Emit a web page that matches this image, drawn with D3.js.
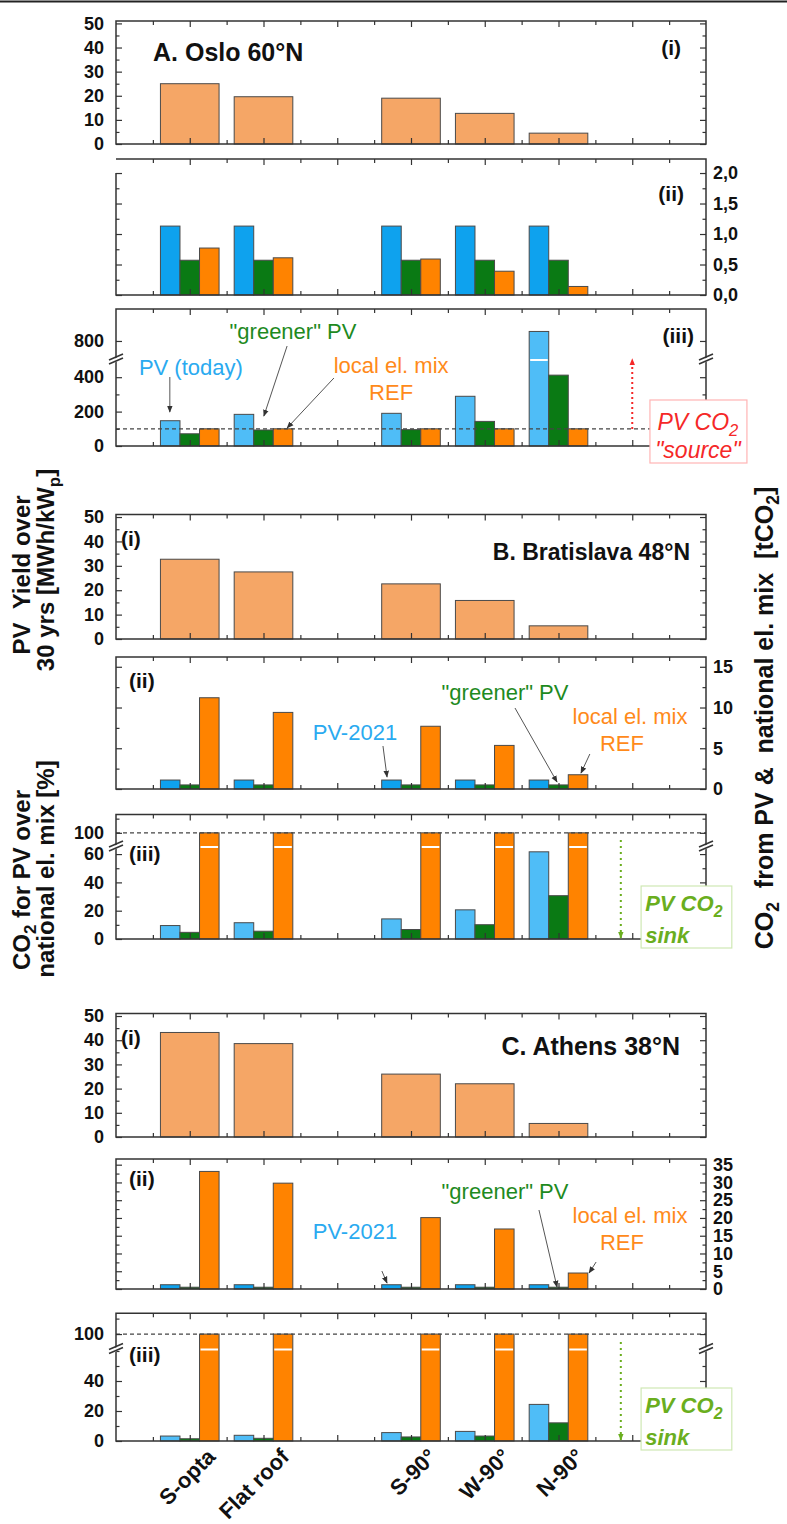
<!DOCTYPE html>
<html>
<head>
<meta charset="utf-8">
<script src="https://cdn.jsdelivr.net/npm/d3@7"></script>
<style>
  body { margin: 0; background: #fff; }
  text { font-family: "Liberation Sans", Arial, Helvetica, sans-serif; }
</style>
</head>
<body>
<svg id="chart" width="787" height="1524"></svg>
<script>
// ---- data ----
const categories = ["S-opta", "Flat roof", "S-90°", "W-90°", "N-90°"];
const catPos = [2, 4, 8, 10, 12];

// (i) PV yield over 30 yrs [MWh/kWp]
const yieldOslo = [25, 19.6, 19, 12.7, 4.5];
const yieldBratislava = [32.7, 27.5, 22.6, 15.8, 5.4];
const yieldAthens = [43.2, 38.6, 26, 22, 5.6];

// (ii) CO2 from PV & national el. mix [tCO2]
const tco2OsloPV = [1.13, 1.13, 1.13, 1.13, 1.13];
const tco2OsloGreen = [0.57, 0.57, 0.57, 0.57, 0.57];
const tco2OsloRef = [0.77, 0.61, 0.59, 0.39, 0.14];
const tco2BratPV = [1.1, 1.1, 1.1, 1.1, 1.1];
const tco2BratGreen = [0.5, 0.5, 0.5, 0.5, 0.5];
const tco2BratRef = [11.2, 9.4, 7.7, 5.35, 1.75];
const tco2AthPV = [1.2, 1.2, 1.2, 1.2, 1.2];
const tco2AthGreen = [0.5, 0.5, 0.5, 0.5, 0.5];
const tco2AthRef = [33.1, 29.8, 20.1, 16.9, 4.5];

// (iii) CO2 for PV over national el. mix [%]
const relOsloPV = [147, 184, 190, 289, 825];
const relOsloGreen = [71, 93, 95, 143, 412];
const relOsloRef = [100, 100, 100, 100, 100];
const relBratPV = [9.5, 11.5, 14.2, 20.6, 61.6];
const relBratGreen = [4.7, 5.5, 6.7, 10.1, 30.6];
const relBratRef = [100, 100, 100, 100, 100];
const relAthPV = [3.3, 3.8, 5.6, 6.4, 24.4];
const relAthGreen = [1.5, 1.8, 2.7, 3.3, 12.1];
const relAthRef = [100, 100, 100, 100, 100];

// ---- styles ----
const INK = "#333";
const C_YIELD = "#F5A666";
const C_BLUE2 = "#0EA2EE", C_BLUE3 = "#4FBDF7";
const C_GREEN = "#0A7A14";
const C_ORANGE = "#FF8300";
const T_BLUE = "#2AAAF0", T_GREEN = "#1E8A1E", T_ORANGE = "#FF8A1A";
const T_RED = "#F52828", T_SINK = "#6AAE1E";

const svg = d3.select("#chart");
const x = d3.scaleLinear().domain([0, 16]).range([116, 706]);
const groupW = 1.59, subW = groupW / 3;

svg.append("line").attr("x1", 0).attr("x2", 787).attr("y1", 1.5).attr("y2", 1.5)
  .attr("stroke", "#222").attr("stroke-width", 2);

// arrow markers
const defs = svg.append("defs");
[["ahDark", "#333"], ["ahRed", T_RED], ["ahGreen", T_SINK]].forEach(([id, c]) => {
  defs.append("marker").attr("id", id).attr("viewBox", "0 0 10 10")
    .attr("refX", 9).attr("refY", 5).attr("markerWidth", 7).attr("markerHeight", 7)
    .attr("markerUnits", "userSpaceOnUse").attr("orient", "auto")
    .append("path").attr("d", "M0,1L10,5L0,9Z").attr("fill", c);
});

const fmtComma = d => d3.format(".1f")(d).replace(".", ",");

// draw one panel: bars, frame, inward ticks
function drawPanel(cfg) {
  const y = d3.scaleLinear().domain(cfg.domain).range(cfg.range);
  const yb = d3.max(cfg.range), yt = d3.min(cfg.range);
  const g = svg.append("g");

  // bars
  cfg.series.forEach((s, k) => {
    const n = cfg.series.length;
    const w = n === 1 ? groupW : subW;
    g.selectAll(null).data(s.values).join("rect")
      .attr("x", (d, i) => x(catPos[i] - groupW / 2 + k * w))
      .attr("width", x(w) - x(0))
      .attr("y", d => y(d))
      .attr("height", d => yb - y(d))
      .attr("fill", s.color)
      .attr("stroke", "#4a4a4a").attr("stroke-width", 1);
    // white cut where a bar crosses the axis break
    if (cfg.brk) {
      g.selectAll(null).data(s.values.map((d, i) => [d, i]).filter(d => d[0] > cfg.domain[1])).join("line")
        .attr("x1", d => x(catPos[d[1]] - groupW / 2 + k * w) + 1)
        .attr("x2", d => x(catPos[d[1]] - groupW / 2 + (k + 1) * w) - 1)
        .attr("y1", y(cfg.domain[1])).attr("y2", y(cfg.domain[1]))
        .attr("stroke", "#fff").attr("stroke-width", 2);
    }
  });

  if (cfg.refLine != null) {
    g.append("line").attr("x1", x(0)).attr("x2", x(16))
      .attr("y1", y(cfg.refLine)).attr("y2", y(cfg.refLine))
      .attr("stroke", "#444").attr("stroke-width", 1.2).attr("stroke-dasharray", "4,3");
  }

  // frame
  const leftTop = cfg.leftTop != null ? y(cfg.leftTop) : yt;
  g.append("path")
    .attr("d", `M${x(0)},${leftTop}V${yb}H${x(16)}V${yt}H${x(0)}` + (cfg.leftTop != null ? "" : "Z"))
    .attr("fill", "none").attr("stroke", INK).attr("stroke-width", 1.5);

  // x ticks top and bottom, inward
  const xt = [[d3.range(2, 16, 2), 6], [d3.range(1, 16, 2), 4]];
  xt.forEach(([vals, len]) => {
    g.append("g").attr("transform", `translate(0,${yb})`)
      .call(d3.axisBottom(x).tickValues(vals).tickSize(-len).tickFormat(""));
    g.append("g").attr("transform", `translate(0,${yt})`)
      .call(d3.axisTop(x).tickValues(vals).tickSize(-len).tickFormat(""));
  });

  // y ticks left and right, inward
  const fmt = cfg.fmt || d3.format("d");
  [[cfg.major, 6, true], [cfg.minor, 3.5, false]].forEach(([vals, len, lab]) => {
    g.append("g").attr("transform", `translate(${x(0)},0)`)
      .call(d3.axisLeft(y).tickValues(vals).tickSize(-len).tickPadding(12)
        .tickFormat(lab && cfg.labels === "left" ? fmt : ""));
    g.append("g").attr("transform", `translate(${x(16)},0)`)
      .call(d3.axisRight(y).tickValues(vals).tickSize(-len).tickPadding(7)
        .tickFormat(lab && cfg.labels === "right" ? fmt : ""));
  });

  g.selectAll(".domain").remove();
  g.selectAll(".tick line").attr("stroke", INK).attr("stroke-width", 1.2);
  g.selectAll(".tick text").attr("font-family", null).attr("font-size", 18)
    .attr("font-weight", "bold").attr("fill", "#111");

  // axis break marks
  if (cfg.brk) {
    const by = y(cfg.domain[1]);
    [x(0), x(16)].forEach(bx => {
      g.append("path").attr("d", `M${bx - 7},${by + 5}L${bx + 7},${by - 1}L${bx + 7},${by - 5}L${bx - 7},${by + 1}Z`)
        .attr("fill", "#fff");
      [1, -3].forEach(o => g.append("line")
        .attr("x1", bx - 7).attr("y1", by + 3 + o).attr("x2", bx + 7).attr("y2", by - 3 + o)
        .attr("stroke", INK).attr("stroke-width", 1.6));
    });
  }
  return { g, y, y0: yb };
}

function label(txt, px, py, opt = {}) {
  const t = svg.append("text").attr("x", px).attr("y", py)
    .attr("font-size", opt.size || 19).attr("font-weight", opt.weight || "bold")
    .attr("font-style", opt.style || "normal")
    .attr("text-anchor", opt.anchor || "start").attr("fill", opt.color || "#111");
  if (Array.isArray(txt)) {
    let down = false;
    txt.forEach(([s, sub]) => {
      const ts = t.append("tspan").text(s);
      if (sub) { ts.attr("dy", 6).attr("font-size", (opt.size || 19) * 0.72); down = true; }
      else if (down) { ts.attr("dy", -6); down = false; }
    });
  } else t.text(txt);
  return t;
}

function arrow(p, x1, d1, x2, d2, marker, color, dash) {
  svg.append("line")
    .attr("x1", x(x1)).attr("y1", p.y0 - d1).attr("x2", x(x2)).attr("y2", p.y0 - d2)
    .attr("stroke", color || "#555").attr("stroke-width", dash ? 2 : 1)
    .attr("stroke-dasharray", dash || null)
    .attr("marker-end", `url(#${marker})`);
}

const three = (pv, gr, ref, blue) => [
  { values: pv, color: blue }, { values: gr, color: C_GREEN }, { values: ref, color: C_ORANGE }];

// ================= A. Oslo =================
const A1 = drawPanel({ domain: [0, 51], range: [144, 21], series: [{ values: yieldOslo, color: C_YIELD }],
  major: d3.range(0, 51, 10), minor: d3.range(5, 50, 10), labels: "left" });
const A2 = drawPanel({ domain: [0, 2.23], range: [295, 159], series: three(tco2OsloPV, tco2OsloGreen, tco2OsloRef, C_BLUE2),
  major: d3.range(0, 2.01, 0.5), minor: d3.range(0.25, 2.0, 0.5), labels: "right", fmt: fmtComma, leftTop: 2.0 });
const A3 = drawPanel({ domain: [0, 500, 750, 884], range: [446, 360, 360, 309], brk: true,
  series: three(relOsloPV, relOsloGreen, relOsloRef, C_BLUE3), refLine: 100,
  major: [0, 200, 400, 800], minor: [100, 300], labels: "left" });

label("A. Oslo 60°N", 153, 61, { size: 25 });
label("(i)", 681, 55, { size: 21, anchor: "end" });
label("(ii)", 684, 201, { size: 21, anchor: "end" });
label("(iii)", 694, 343, { size: 21, anchor: "end" });

label("PV (today)", x(2.03), A3.y0 - 71, { size: 22, weight: "normal", anchor: "middle", color: T_BLUE });
arrow(A3, 1.46, 69, 1.46, 34, "ahDark");
label("\"greener\" PV", x(4.8), A3.y0 - 107, { size: 22, weight: "normal", anchor: "middle", color: T_GREEN });
arrow(A3, 4.64, 100, 4.01, 30, "ahDark");
label("local el. mix", x(7.46), A3.y0 - 73, { size: 22, weight: "normal", anchor: "middle", color: T_ORANGE });
label("REF", x(7.46), A3.y0 - 46, { size: 22, weight: "normal", anchor: "middle", color: T_ORANGE });
arrow(A3, 5.91, 68, 4.64, 18, "ahDark");

arrow(A3, 14, 17, 14, 87, "ahRed", T_RED, "2,3");
svg.append("rect").attr("x", x(14.48)).attr("y", A3.y0 - 46).attr("width", x(17.11) - x(14.48)).attr("height", 63)
  .attr("fill", "#fff").attr("stroke", "#FFB4B4").attr("stroke-width", 1.2);
label([["PV CO"], ["2", true], [""]], x(15.78), A3.y0 - 16, { size: 23, weight: "normal", style: "italic", anchor: "middle", color: T_RED });
label("\"source\"", x(15.78), A3.y0 + 12, { size: 23, weight: "normal", style: "italic", anchor: "middle", color: T_RED });

// ================= B. Bratislava =================
const B1 = drawPanel({ domain: [0, 51], range: [639, 514.6], series: [{ values: yieldBratislava, color: C_YIELD }],
  major: d3.range(0, 51, 10), minor: d3.range(5, 50, 10), labels: "left" });
const B2 = drawPanel({ domain: [0, 16.2], range: [789, 657], series: three(tco2BratPV, tco2BratGreen, tco2BratRef, C_BLUE2),
  major: [0, 5, 10, 15], minor: [2.5, 7.5, 12.5], labels: "right" });
const B3 = drawPanel({ domain: [0, 65, 90, 113], range: [939, 847, 847, 814.4], brk: true,
  series: three(relBratPV, relBratGreen, relBratRef, C_BLUE3), refLine: 100,
  major: [0, 20, 40, 60, 100], minor: [10, 30, 50, 110], labels: "left" });

label("(i)", 121, 546, { size: 21 });
label("B. Bratislava 48°N", 690, 560, { size: 23, anchor: "end" });
label("(ii)", 129, 688, { size: 21 });
label("(iii)", 129, 861, { size: 21 });

// ================= C. Athens =================
const C1 = drawPanel({ domain: [0, 51], range: [1137, 1013.6], series: [{ values: yieldAthens, color: C_YIELD }],
  major: d3.range(0, 51, 10), minor: d3.range(5, 50, 10), labels: "left" });
const C2 = drawPanel({ domain: [0, 36.6], range: [1289, 1159], series: three(tco2AthPV, tco2AthGreen, tco2AthRef, C_BLUE2),
  major: d3.range(0, 36, 5), minor: d3.range(2.5, 35, 5), labels: "right" });
const C3 = drawPanel({ domain: [0, 61, 90, 113.5], range: [1441, 1349.5, 1349.5, 1313.2], brk: true,
  series: three(relAthPV, relAthGreen, relAthRef, C_BLUE3), refLine: 100,
  major: [0, 20, 40, 100], minor: [10, 30, 50, 60, 110], labels: "left" });

label("(i)", 121, 1045, { size: 21 });
label("C. Athens 38°N", 680, 1055, { size: 25, anchor: "end" });
label("(ii)", 129, 1186, { size: 21 });
label("(iii)", 129, 1362, { size: 21 });

// annotations shared by the (ii) panels of B and C
[[B2, 0], [C2, 1]].forEach(([p, c]) => {
  label("PV-2021", x(6.48), p.y0 - 49 - c, { size: 22, weight: "normal", anchor: "middle", color: T_BLUE });
  label("\"greener\" PV", x(10.55), p.y0 - 89 - c, { size: 22, weight: "normal", anchor: "middle", color: T_GREEN });
  label("local el. mix", x(13.94), p.y0 - 65 - c, { size: 22, weight: "normal", anchor: "middle", color: T_ORANGE });
  label("REF", x(13.72), p.y0 - 38 - c, { size: 22, weight: "normal", anchor: "middle", color: T_ORANGE });
});
arrow(B2, 7.24, 43, 7.35, 12, "ahDark");
arrow(B2, 10.82, 81, 11.96, 7, "ahDark");
arrow(B2, 12.85, 35, 12.61, 16, "ahDark");
arrow(C2, 7.21, 18, 7.35, 6, "ahDark");
arrow(C2, 11.47, 79, 11.96, 2, "ahDark");
arrow(C2, 13.02, 27, 12.83, 16, "ahDark");

// "PV CO2 sink" boxes in B(iii) and C(iii)
[B3, C3].forEach(p => {
  arrow(p, 13.69, 99, 13.69, 1, "ahGreen", T_SINK, "2,4");
  svg.append("rect").attr("x", x(14.24)).attr("y", p.y0 - 53).attr("width", x(16.7) - x(14.24)).attr("height", 62)
    .attr("fill", "#fff").attr("stroke", "#CFE8B4").attr("stroke-width", 1.2);
  label([["PV CO"], ["2", true], [""]], x(14.35), p.y0 - 28, { size: 22, style: "italic", color: T_SINK });
  label("sink", x(14.35), p.y0 + 4, { size: 22, style: "italic", color: T_SINK });
});

// category labels under the last panel
svg.append("g").selectAll("text").data(categories).join("text")
  .attr("transform", (d, i) => `translate(${x(catPos[i]) + 27},1458) rotate(-45)`)
  .attr("text-anchor", "end").attr("font-size", 22).attr("font-weight", "bold").attr("fill", "#111")
  .text(d => d);

// axis titles
function vtitle(parts, px, py, size) {
  const t = svg.append("text").attr("transform", `translate(${px},${py}) rotate(-90)`)
    .attr("text-anchor", "middle").attr("font-size", size).attr("font-weight", "bold").attr("fill", "#111");
  let down = false;
  parts.forEach(([s, sub]) => {
    const ts = t.append("tspan").text(s);
    if (sub) { ts.attr("dy", 6).attr("font-size", size * 0.7); down = true; }
    else if (down) { ts.attr("dy", -6); down = false; }
  });
}
vtitle([["PV\u00A0\u00A0Yield over"]], 30, 575, 24);
vtitle([["30 yrs [MWh/kW"], ["p", true], ["]"]], 54, 570, 24);
vtitle([["CO"], ["2", true], [" for PV over"]], 30, 880, 24);
vtitle([["national el. mix [%]"]], 54, 869, 24);
vtitle([["CO"], ["2", true], ["\u00A0\u00A0from PV &\u00A0\u00A0national el. mix\u00A0\u00A0[tCO"], ["2", true], ["]"]], 773, 718, 25);
</script>
</body>
</html>
